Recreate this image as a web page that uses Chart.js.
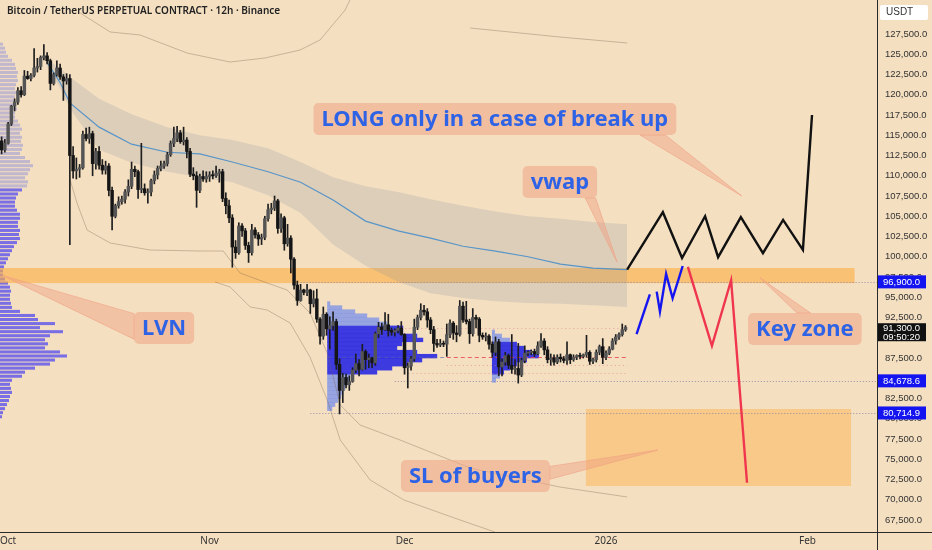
<!DOCTYPE html>
<html><head><meta charset="utf-8">
<script src="https://cdn.jsdelivr.net/npm/chart.js@4.4.1/dist/chart.umd.min.js"></script>
<style>html,body{margin:0;padding:0;background:#f4dfc1;}#wrap{width:932px;height:550px;}</style>
</head><body><div id="wrap"><canvas id="c" width="932" height="550"></canvas></div>
<script>
// ---------- DATA ----------
const titleText = 'Bitcoin / TetherUS PERPETUAL CONTRACT · 12h · Binance';
const monthTicks = [0, 62, 122, 184, 246];           // 12h-candle index of month starts
const monthLabels = ['Oct', 'Nov', 'Dec', '2026', 'Feb'];
const yTickValues = [67500,70000,72500,75000,77500,80000,82500,85000,87500,90000,92500,95000,97500,100000,102500,105000,107500,110000,112500,115000,117500,120000,122500,125000,127500];
const firstCandle = -2; // index of first 12h candle (Sep 30 00:00)
const opens = [114300,113200,114000,116400,118600,119100,120500,120000,122300,122000,
122400,123300,123500,124600,124800,124200,121400,122500,123300,122200,
121700,122000,112500,110600,110800,111000,115100,114600,115200,111500,
113000,111300,110700,111200,108200,105000,106300,106800,107100,108000,
108700,110800,110500,108300,108400,107900,108000,109400,110100,110900,
111200,111500,112600,114000,114600,115300,114200,114400,113000,110200,
110000,108200,109900,109600,109900,110100,110000,110300,110500,107200,
106300,104800,101200,100500,103800,103200,101400,100500,103300,102700,
102200,102400,104700,105800,106000,106900,103500,104800,101600,102300,
99700,96500,94600,95900,95600,95900,94200,94800,92300,90200,
92900,91100,91500,92000,86700,83500,85100,84200,84600,86000,
86800,86100,88300,87300,87500,86900,90500,91300,91000,91600,
90900,90700,90900,91200,90400,86300,86500,87400,91300,92500,
93400,93200,92200,91000,89300,89100,89300,89200,90400,91800,
90600,90400,93900,92200,92000,90500,92500,92300,90300,90100,
90200,89200,88200,89500,86400,87000,87800,86600,86100,86200,
85400,87200,88100,88200,88300,88000,89000,89600,88500,87300,
87500,87000,87600,87400,87200,87900,87300,87600,87800,87700,
87900,88200,87100,87300,88200,88900,87600,88100,88600,89600,
90100,90400,91000];
const highs = [114800,114500,116600,118700,119500,120900,121000,123000,122900,122600,
125700,124500,124800,126200,125200,124400,122700,124200,123800,122500,
122600,122500,113600,112200,111400,115500,115900,116000,115500,113400,
113600,112000,111800,111500,108600,106500,107400,107500,108300,109500,
111700,111200,110700,114000,109000,108400,109600,110600,111200,111800,
111800,112900,114300,116000,116100,115600,116000,114700,113400,111000,
110500,110200,110600,110500,110500,110600,111200,110800,110800,107900,
107000,105200,102000,104200,104100,103500,101800,104000,103600,103000,
102800,105000,106500,106600,107500,107100,105300,105000,104000,102600,
99900,97000,96600,96000,96600,96000,95800,96000,92500,93800,
93100,92600,93200,92300,87400,85600,85500,85300,86300,88000,
87300,89200,88500,88000,87600,90700,91900,91800,93100,92900,
91200,91100,91500,92000,90500,86900,87700,92300,92800,94200,
94000,93600,92500,91400,89800,89800,89600,91700,92200,92000,
91500,94600,94400,94500,92300,93600,92800,92500,90600,90600,
90400,89500,90100,89800,87400,88200,88000,90400,87300,89300,
87500,89000,88400,88500,88600,89500,90500,89900,88900,88000,
87900,87900,88000,87700,89500,88000,87900,87900,88100,88000,
90300,88400,87500,88500,89100,89900,88400,88900,89900,90400,
90600,91700,91500];
const lows = [112700,112900,113900,116200,118000,118800,119700,119900,121900,121700,
122200,122800,123100,124300,123800,120600,121200,122300,121900,119300,
121300,101500,109700,109600,109800,110800,114300,114000,110000,110800,
110800,110200,110200,107500,103300,104800,106000,106500,106600,107500,
108400,109900,107200,107900,107600,106600,107500,109000,109600,110600,
110900,111200,112400,113600,114200,114000,113800,112200,109900,109500,
106100,107900,109300,109200,109300,109600,109800,109200,106800,105300,
104200,98700,99800,100300,102500,100900,99300,100200,102300,101400,
101500,102100,104400,105300,105700,102900,103000,100800,101300,98000,
96000,94000,94500,95300,95200,93000,93800,91900,89200,89800,
90300,88600,90900,86100,80600,82000,83800,83500,84500,85700,
85300,86000,86100,86300,86300,86600,90000,90400,90900,90200,
90300,90200,90600,90300,85500,83800,86000,87100,91000,92200,
92800,91300,90500,88300,88800,88900,88900,87700,90000,89800,
89500,90200,91900,91700,89300,90200,91200,89500,89800,89600,
88600,87600,87800,85300,85300,86600,86200,85600,85500,84400,
85200,86900,87800,87900,87700,87900,88800,87900,86900,86600,
86600,86800,87000,86900,86700,86800,87100,87300,87400,87500,
87600,86700,86800,87000,87900,86800,87300,87900,88500,89200,
89800,90200,90800];
const closes = [113200,114000,116400,118600,119100,120500,120000,122300,122000,122400,
123300,123500,124600,124800,124200,121400,122500,123300,122200,121700,
122000,112500,110600,110800,111000,115100,114600,115200,111500,113000,
111300,110700,111200,108200,105000,106300,106800,107100,108000,108700,
110800,110500,108300,108400,107900,108000,109400,110100,110900,111200,
111500,112600,114000,114600,115300,114200,114400,113000,110200,110000,
108200,109900,109600,109900,110100,110000,110300,110500,107200,106300,
104800,101200,100500,103800,103200,101400,100500,103300,102700,102200,
102400,104700,105800,106000,106900,103500,104800,101600,102300,99700,
96500,94600,95900,95600,95900,94200,94800,92300,90200,92900,
91100,91500,92000,86700,83500,85100,84200,84600,86000,86800,
86100,88300,87300,87500,86900,90500,91300,91000,91600,90900,
90700,90900,91200,90400,86300,86500,87400,91300,92500,93400,
93200,92200,91000,89300,89100,89300,89200,90400,91800,90600,
90400,93900,92200,92000,90500,92500,92300,90300,90100,90200,
89200,88200,89500,86400,87000,87800,86600,86100,86200,85400,
87200,88100,88200,88300,88000,89000,89600,88500,87300,87500,
87000,87600,87400,87200,87900,87300,87600,87800,87700,87900,
88200,87100,87300,88200,88900,87600,88100,88600,89600,90100,
90400,91000,91300];

// anchored VWAP with band
const bandIdx   = [12,16,19,28,38,49,59,69,80,90,100,110,120,130,140,150,160,170,180,190.5];
const bandUpper = [124300,123300,122200,119500,117600,116000,115000,114400,113400,111700,109800,108700,108000,107100,106300,105600,105000,104700,104300,104000];
const bandLower = [123500,120800,118300,113200,111600,110500,109800,109200,107600,105400,101500,98900,96900,95500,94900,94500,94300,94200,94000,93800];
const vwapVals  = [124000,121500,119000,116000,113900,112900,112700,111700,110500,109200,107000,104400,103200,102300,101300,100700,100000,99100,98600,98400];
// outer thin band lines
const outerAIdx = [22.2,31.4,40.6,55.1,68.3,79.1,89.8,96,103.7,105.2];
const outerAVal = [130090,127750,127380,125150,124040,124540,125520,126760,130460,131690];
const outerA2Idx = [142.2,169.8,190.5];
const outerA2Val = [128240,127130,126390];
const outerBIdx = [19.1,21.2,24.3,31.4,43.7,59.1,66.2,71.4,79.7,85.8,88.9,92.9,98.2,102.2,108.3,120.6,142.2,169.8,190.5];
const outerBVal = [109480,106640,103300,101700,100830,100710,100710,97990,96760,95900,94660,93060,88120,81700,79230,77380,73920,71570,70340];
const outerCIdx = [63.7,68.3,74.5,79.7,86.8,92.9,98.2,102.2,111.4,121.8,139.1,149.8];
const outerCVal = [96880,96270,93800,93430,91820,87620,82320,77380,72440,69970,67500,66020];

// projected paths
const blackIdx = [190.5,201.5,207.4,214.5,218.5,225.5,232.3,238.5,244.6,247.4];
const blackVal = [98400,105500,99850,105000,99950,104900,100450,104550,100850,117500];
const redIdx = [209.2,216.6,222.5,227.4];
const redVal = [98750,89000,97100,72100];
const blue1Idx = [193.4,197.5];
const blue1Val = [90460,95360];
const blue2Idx = [199.6,200.6,202.5,204.5,207.6];
const blue2Val = [95690,93220,97870,94870,98860];

// zones
const keyZone = {fromIdx:-2.5, toIdx:260.5, low:96750, high:98610};
const slZone  = {fromIdx:177.8, toIdx:259.4, low:71700, high:81200};

// horizontal levels
const levels = [
  {p:96900, from:90, to:267.4, kind:'dot'},
  {p:84678.6, from:119, to:267.4, kind:'dot'},
  {p:80714.9, from:93, to:267.4, kind:'dot'},
  {p:91200, from:121, to:190.5, kind:'pink'},
  {p:86640, from:135, to:190.5, kind:'pink'},
  {p:85650, from:122, to:190.5, kind:'pink'},
  {p:87620, from:98.5, to:135, kind:'poc0'},
  {p:87620, from:135, to:190.5, kind:'poc'}
];

// visible-range volume profile (bins of 500 USDT, lower bound)
const vpBin = 500;
const vpLeftPrices = [80000,80500,81000,81500,82000,82500,83000,83500,84000,84500,
85000,85500,86000,86500,87000,87500,88000,88500,89000,89500,
90000,90500,91000,91500,92000,92500,93000,93500,94000,94500,
95000,95500,96000,96500,97000,97500,98000,98500,99000,99500,
100000,100500,101000,101500,102000,102500,103000,103500,104000,104500,
105000,105500,106000,106500,107000,107500,108000,108500,109000,109500,
110000,110500,111000,111500,112000,112500,113000,113500,114000,114500,
115000,115500,116000,116500,117000,117500,118000,118500,119000,119500,
120000,120500,121000,121500,122000,122500,123000,123500,124000,124500,
125000,125500,126000];
const vpLeftVol = [2,3,5,7,9,10,12,11,10,12,
22,25,35,50,55,67,60,45,48,45,
50,63,40,55,38,35,20,12,11,10,
10,11,10,8,5,3,3,4,6,8,
10,12,14,17,20,19,20,18,18,20,
20,17,15,15,16,18,22,27,28,25,
28,30,33,30,25,20,22,23,21,22,
20,22,20,18,15,15,17,16,14,15,
17,15,16,18,17,18,16,15,12,8,
6,5,3];
const vpLeftValueHigh = 108500;

// session volume profiles
const vp1Start = 98.2;
const vp1Prices = [81000,81500,82000,82500,83000,83500,84000,84500,85000,85500,86000,86500,87000,87500,88000,88500,89000,89500,90000,90500,91000,91500,92000,92500,93000,93500,94000];
const vp1Vol = [5,8,11,14,16,18,20,22,23,50,65,80,95,110,90,70,75,96,90,76,76,60,52,40,28,15,3];
const vp1Dark = [85500, 91500];
const vp2Start = 148.9;
const vp2Prices = [84500,85000,85500,86000,86500,87000,87500,88000,88500,89000,89500,90000,90500];
const vp2Vol = [4,8,12,18,25,35,47,40,32,25,18,10,3];
const vp2Dark = [85500, 89500];

// annotations
const notes = [
  {text:'LONG only in a case of break up', x:149.8, p:117000, side:'bottom', f:[0.90,0.97], tx:225.8, tp:107500},
  {text:'vwap', x:169.8, p:109230, side:'bottom', f:[0.84,0.98], tx:187.4, tp:99350},
  {text:'LVN', x:48, p:91200, side:'left', f:[0.05,0.85], tx:-1.8, tp:97700},
  {text:'Key zone', x:245.2, p:91080, side:'top', f:[0.43,0.55], tx:231.4, tp:97400},
  {text:'SL of buyers', x:143.8, p:72930, side:'right', f:[0.2,0.6], tx:200, tp:76140}
];
const priceTags = [
  {p:96900, text:'96,900.0', color:'#1414f0'},
  {p:84678.6, text:'84,678.6', color:'#1414f0'},
  {p:80714.9, text:'80,714.9', color:'#1414f0'}
];
const lastPrice = 91300, countdown = '09:50:20';

// ---------- STYLE ----------
const BG = '#f4dfc1';
const UP = '#555555', DOWN = '#151515', WICK = '#1e1e1e';
const FONT = '"Noto Sans", "Open Sans", sans-serif';

const wickData = [], bodyData = [], bodyColors = [];
for (let k = 0; k < closes.length; k++) {
  const x = firstCandle + k;
  wickData.push({x, y:[lows[k], highs[k]]});
  bodyData.push({x, y:[opens[k], closes[k]]});
  bodyColors.push(closes[k] >= opens[k] ? UP : DOWN);
}
const pts = (xs, ys) => xs.map((x, i) => ({x, y: ys[i]}));
const lineDs = (xs, ys, color, w, order, extra) => Object.assign({
  type:'line', data: pts(xs, ys), borderColor: color, borderWidth: w, pointRadius: 0,
  tension: 0, fill: false, order
}, extra || {});

function fmt(v){ return v.toLocaleString('en-US', {minimumFractionDigits:1, maximumFractionDigits:1}); }

const tvPlugin = {
  id: 'tv',
  beforeDraw(chart) {
    const {ctx, chartArea: ca, scales: {x, y}} = chart;
    ctx.save();
    ctx.fillStyle = BG; ctx.fillRect(0, 0, chart.width, chart.height);
    ctx.beginPath(); ctx.rect(ca.left, ca.top, ca.right - ca.left, ca.bottom - ca.top); ctx.clip();
    // left VP
    for (let i = 0; i < vpLeftPrices.length; i++) {
      const p = vpLeftPrices[i];
      const y1 = y.getPixelForValue(p + vpBin), y2 = y.getPixelForValue(p);
      ctx.fillStyle = p < vpLeftValueHigh ? 'rgba(95,85,235,0.82)' : 'rgba(120,125,225,0.4)';
      ctx.fillRect(ca.left, y1 + 0.5, vpLeftVol[i], (y2 - y1) - 1);
    }
    // zones
    const zone = (z, color) => {
      const x1 = x.getPixelForValue(z.fromIdx), x2 = x.getPixelForValue(z.toIdx);
      const y1 = y.getPixelForValue(z.high), y2 = y.getPixelForValue(z.low);
      ctx.fillStyle = color; ctx.fillRect(x1, y1, x2 - x1, y2 - y1);
    };
    zone(keyZone, 'rgba(252,175,70,0.62)');
    zone(slZone, 'rgba(252,180,80,0.5)');
    // session VPs
    const unit = (x.getPixelForValue(1) - x.getPixelForValue(0)) / 3.25;
    const sess = (start, prices, vols, dark) => {
      const x0 = x.getPixelForValue(start);
      for (let i = 0; i < prices.length; i++) {
        const p = prices[i];
        const y1 = y.getPixelForValue(p + vpBin), y2 = y.getPixelForValue(p);
        ctx.fillStyle = (p >= dark[0] && p < dark[1]) ? 'rgba(35,35,228,0.88)' : 'rgba(75,115,250,0.55)';
        ctx.fillRect(x0, y1, vols[i] * unit, y2 - y1 + 0.3);
      }
    };
    sess(vp1Start, vp1Prices, vp1Vol, vp1Dark);
    sess(vp2Start, vp2Prices, vp2Vol, vp2Dark);
    // levels
    levels.forEach(l => {
      const yy = Math.round(y.getPixelForValue(l.p)) + 0.5;
      ctx.beginPath(); ctx.lineWidth = 1;
      if (l.kind === 'dot') { ctx.strokeStyle = 'rgba(120,115,160,0.75)'; ctx.setLineDash([1, 2]); }
      else if (l.kind === 'pink') { ctx.strokeStyle = 'rgba(220,120,140,0.6)'; ctx.setLineDash([1, 3]); }
      else if (l.kind === 'poc0') { ctx.strokeStyle = 'rgba(90,90,170,0.6)'; ctx.setLineDash([4, 3]); }
      else { ctx.strokeStyle = 'rgba(235,70,80,0.85)'; ctx.setLineDash([4, 3]); ctx.lineWidth = 1.2; }
      ctx.moveTo(x.getPixelForValue(l.from), yy); ctx.lineTo(x.getPixelForValue(l.to), yy); ctx.stroke();
    });
    ctx.setLineDash([]);
    ctx.restore();
  },
  afterDatasetsDraw(chart) {
    const {ctx, chartArea: ca, scales: {x, y}} = chart;
    ctx.save();
    // annotations
    ctx.font = 'bold 22px ' + FONT;
    notes.forEach(n => {
      const tw = ctx.measureText(n.text).width;
      const w = tw + 16, h = 32;
      const cx = x.getPixelForValue(n.x), cy = y.getPixelForValue(n.p);
      const bx = cx - w / 2, by = cy - h / 2;
      let b1, b2;
      if (n.side === 'bottom') { b1 = [bx + w * n.f[0], by + h]; b2 = [bx + w * n.f[1], by + h]; }
      else if (n.side === 'top') { b1 = [bx + w * n.f[0], by]; b2 = [bx + w * n.f[1], by]; }
      else if (n.side === 'left') { b1 = [bx, by + h * n.f[0]]; b2 = [bx, by + h * n.f[1]]; }
      else { b1 = [bx + w, by + h * n.f[0]]; b2 = [bx + w, by + h * n.f[1]]; }
      const tx = x.getPixelForValue(n.tx), ty = y.getPixelForValue(n.tp);
      ctx.beginPath(); ctx.moveTo(b1[0], b1[1]); ctx.lineTo(tx, ty); ctx.lineTo(b2[0], b2[1]); ctx.closePath();
      ctx.fillStyle = 'rgba(240,160,130,0.45)'; ctx.fill();
      ctx.strokeStyle = 'rgba(240,160,130,0.6)'; ctx.lineWidth = 1; ctx.stroke();
      ctx.beginPath(); ctx.roundRect(bx, by, w, h, 5);
      ctx.fillStyle = 'rgba(240,168,138,0.6)'; ctx.fill();
      ctx.fillStyle = '#2e63e6'; ctx.textAlign = 'center'; ctx.textBaseline = 'middle';
      ctx.fillText(n.text, cx, cy + 1);
    });
    // axis lines
    ctx.strokeStyle = '#2a2a2a'; ctx.lineWidth = 1;
    ctx.beginPath(); ctx.moveTo(ca.right + 0.5, 0); ctx.lineTo(ca.right + 0.5, chart.height); ctx.stroke();
    ctx.beginPath(); ctx.moveTo(0, ca.bottom + 0.5); ctx.lineTo(chart.width, ca.bottom + 0.5); ctx.stroke();
    // month labels
    ctx.font = '10px ' + FONT; ctx.fillStyle = '#333'; ctx.textAlign = 'center'; ctx.textBaseline = 'middle';
    monthTicks.forEach((t, i) => ctx.fillText(monthLabels[i], x.getPixelForValue(t), ca.bottom + 9));
    // price tags
    ctx.textAlign = 'left';
    ctx.font = '9.5px "Liberation Sans", sans-serif';
    priceTags.forEach(t => {
      const yy = y.getPixelForValue(t.p);
      ctx.fillStyle = t.color; ctx.fillRect(ca.right + 1, yy - 6.5, 48, 13);
      ctx.fillStyle = '#fff'; ctx.fillText(t.text, ca.right + 6, yy + 0.5);
    });
    const ly = y.getPixelForValue(lastPrice);
    ctx.fillStyle = '#111'; ctx.fillRect(ca.right + 1, ly - 4, 48, 18);
    ctx.fillStyle = '#fff';
    ctx.fillText(fmt(lastPrice), ca.right + 6, ly + 1.5);
    ctx.fillText(countdown, ca.right + 6, ly + 10);
    // USDT box
    ctx.fillStyle = '#fff'; ctx.beginPath(); ctx.roundRect(ca.right + 3, 5, 48, 15, 2); ctx.fill();
    ctx.fillStyle = '#333'; ctx.font = '10px "Liberation Sans", sans-serif';
    ctx.fillText('USDT', ca.right + 9, 12.5);
    // title
    ctx.font = '600 10px ' + FONT; ctx.fillStyle = '#222'; ctx.textAlign = 'left';
    ctx.fillText(titleText, 7, 11);
    ctx.restore();
  }
};

new Chart(document.getElementById('c'), {
  type: 'bar',
  data: {
    datasets: [
      lineDs(bandIdx, bandUpper, 'rgba(0,0,0,0)', 0, 20, {fill: '+1', backgroundColor: 'rgba(130,140,160,0.2)'}),
      lineDs(bandIdx, bandLower, 'rgba(0,0,0,0)', 0, 20),
      lineDs(bandIdx, vwapVals, 'rgba(80,145,200,0.95)', 1.2, 15),
      lineDs(outerAIdx, outerAVal, 'rgba(120,95,75,0.35)', 1, 15),
      lineDs(outerA2Idx, outerA2Val, 'rgba(120,95,75,0.35)', 1, 15),
      lineDs(outerBIdx, outerBVal, 'rgba(120,95,75,0.35)', 1, 15),
      lineDs(outerCIdx, outerCVal, 'rgba(120,95,75,0.35)', 1, 15),
      {type: 'bar', data: wickData, backgroundColor: WICK, barThickness: 1, grouped: false, order: 6},
      {type: 'bar', data: bodyData, backgroundColor: bodyColors, barThickness: 2.8, grouped: false, minBarLength: 1, order: 5},
      lineDs(blackIdx, blackVal, '#111', 2.4, 1),
      lineDs(redIdx, redVal, '#f0364f', 2.4, 1),
      lineDs(blue1Idx, blue1Val, '#1515f0', 2.4, 1),
      lineDs(blue2Idx, blue2Val, '#1515f0', 2.4, 1)
    ]
  },
  options: {
    responsive: false, animation: false, events: [],
    layout: {padding: {left: 0, right: 0, top: 0, bottom: 18}},
    plugins: {legend: {display: false}, tooltip: {enabled: false}},
    scales: {
      x: {type: 'linear', min: -2.5, max: 267.4, display: false, offset: false},
      y: {
        type: 'linear', position: 'right', min: 66019, max: 131698,
        grid: {display: false, drawTicks: false}, border: {display: false},
        ticks: {padding: 8, color: '#333', font: {size: 9.5, family: '"Liberation Sans", sans-serif'}, callback: v => fmt(v)},
        afterBuildTicks: axis => { axis.ticks = yTickValues.map(v => ({value: v})); },
        afterFit: axis => { axis.width = 55; axis.paddingTop = 0; axis.paddingBottom = 0; }
      }
    }
  },
  plugins: [tvPlugin]
});
</script>
</body></html>
